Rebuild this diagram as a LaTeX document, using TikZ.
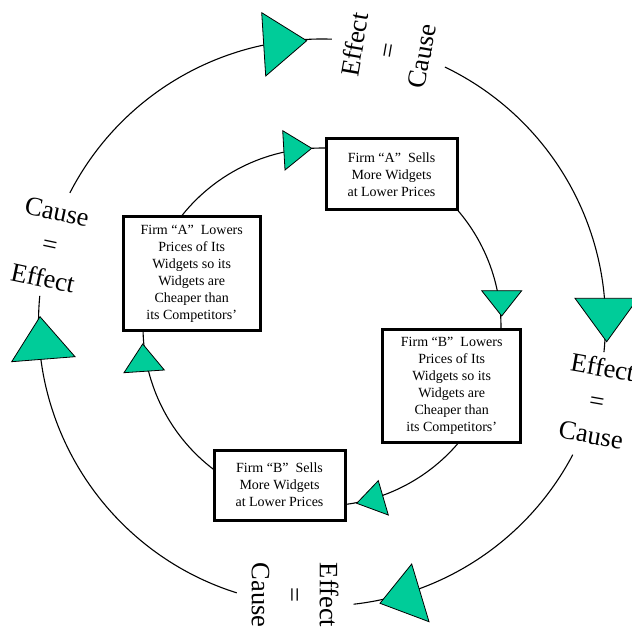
\documentclass[tikz,border=0pt]{standalone}
\usepackage{fontspec}
\setmainfont{Liberation Serif}
\definecolor{tealgreen}{RGB}{0,204,153}
\begin{document}
\begin{tikzpicture}[x=1pt,y=-1pt,
  tri/.style={fill=tealgreen,draw=black,line width=0.8pt,line join=miter},
  flow/.style={draw=black,line width=1.1pt},
  boxnode/.style={draw=black,line width=3pt,inner sep=0pt,outer sep=0pt,align=center,fill=white,font=\fontsize{14}{17}\selectfont},
  biglabel/.style={align=center,inner sep=0pt,font=\fontsize{26.5}{34}\selectfont}]
\useasboundingbox (0,0) rectangle (632,628);
\clip (0,0) rectangle (632,628);
\coordinate (oc) at (322,322.5);
\coordinate (ic) at (322,327);
% outer cycle
\draw[flow] (oc) ++(-152.8:283.5) arc[start angle=-152.8,end angle=-88,radius=283.5];
\draw[flow] (oc) ++(-64.3:283.5) arc[start angle=-64.3,end angle=6,radius=283.5];
\draw[flow] (oc) ++(27.8:283.5) arc[start angle=27.8,end angle=83.6,radius=283.5];
\draw[flow] (oc) ++(107.5:283.5) arc[start angle=107.5,end angle=185.4,radius=283.5];
% inner cycle
\draw[flow] (ic) ++(-141.4:179) arc[start angle=-141.4,end angle=-88.7,radius=179];
\draw[flow] (ic) ++(-41:179) arc[start angle=-41,end angle=1,radius=179];
\draw[flow] (ic) ++(40.5:179) arc[start angle=40.5,end angle=82.6,radius=179];
\draw[flow] (ic) ++(127.1:179) arc[start angle=127.1,end angle=178.7,radius=179];
% outer triangles
\draw[tri] (261.7,12.7) -- (265.7,76) -- (306.7,40.7) -- cycle;
\draw[tri] (575,298.3) -- (638,298.3) -- (606.7,341.7) -- cycle;
\draw[tri] (411.7,564) -- (429,621.7) -- (380,603.3) -- cycle;
\draw[tri] (40,316.7) -- (11.7,361.7) -- (75,356.7) -- cycle;
% inner triangles
\draw[tri] (282.7,130.7) -- (285,170) -- (311.7,148.3) -- cycle;
\draw[tri] (481.7,290.7) -- (521.7,290.7) -- (501.7,316) -- cycle;
\draw[tri] (378.3,480.7) -- (388.3,515) -- (356.7,503.3) -- cycle;
\draw[tri] (142.7,344) -- (124,372.7) -- (164.3,370) -- cycle;
% boxes
\node[boxnode,minimum width=131,minimum height=71] (asells) at (391.5,174.5)
  {Firm “A”\hspace{0.5em}Sells\\More Widgets\\at Lower Prices};
\node[boxnode,minimum width=136.7,minimum height=114] (alowers) at (191.7,273.7)
  {Firm “A”\hspace{0.5em}Lowers\\Prices of Its\\Widgets so its\\Widgets are\\Cheaper than\\its Competitors’};
\node[boxnode,minimum width=138,minimum height=112.7] (blowers) at (451.7,386.3)
  {Firm “B”\hspace{0.5em}Lowers\\Prices of Its\\Widgets so its\\Widgets are\\Cheaper than\\its Competitors’};
\node[boxnode,minimum width=131,minimum height=70] (bsells) at (279.5,485)
  {Firm “B”\hspace{0.5em}Sells\\More Widgets\\at Lower Prices};
% big labels
\node[biglabel,rotate=80] (toplbl) at (388,50.5) {Effect\\=\\Cause};
\node[biglabel,rotate=-12] (leftlbl) at (50,245) {Cause\\=\\Effect};
\node[biglabel,rotate=-10] (rightlbl) at (597,401) {Effect\\=\\Cause};
\node[biglabel,rotate=-90] (botlbl) at (295,595) {Effect\\=\\Cause};
\end{tikzpicture}
\end{document}
